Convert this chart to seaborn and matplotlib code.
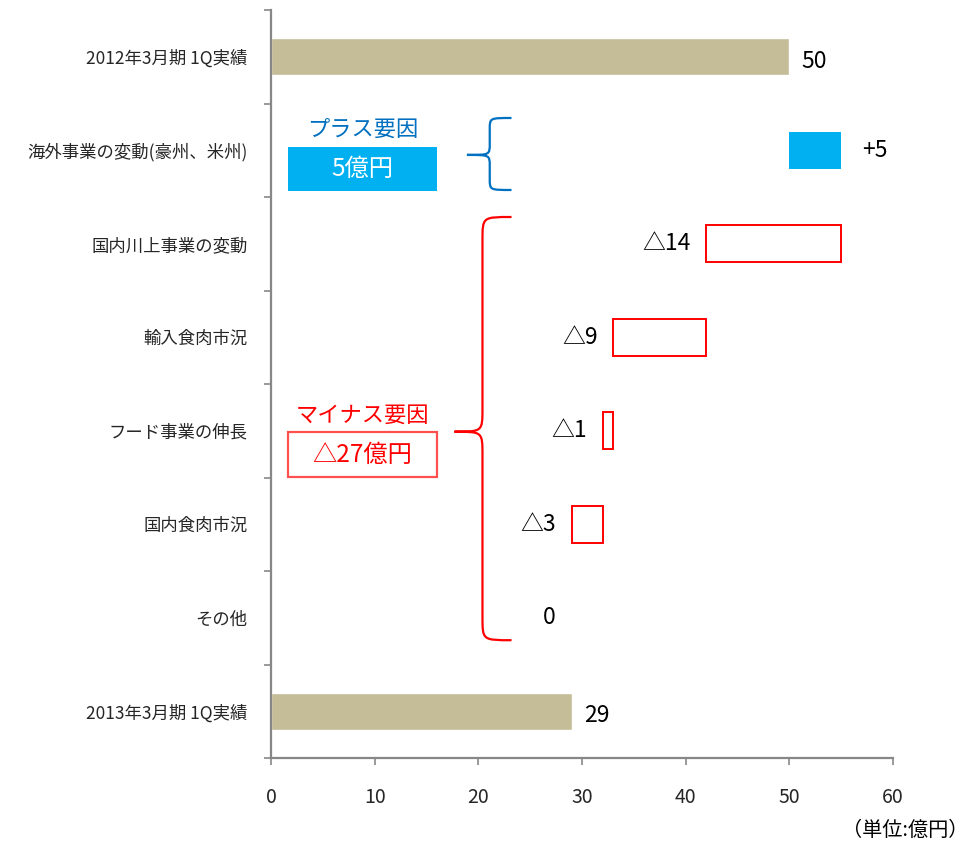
import matplotlib
matplotlib.use("Agg")
import matplotlib.pyplot as plt
import seaborn as sns
import pandas as pd
from matplotlib.path import Path
from matplotlib.patches import PathPatch, Rectangle

categories = ["2012年3月期 1Q実績", "海外事業の変動(豪州、米州)", "国内川上事業の変動", "輸入食肉市況",
              "フード事業の伸長", "国内食肉市況", "その他", "2013年3月期 1Q実績"]
starts = [0, 50, 42, 33, 32, 29, 29, 0]
ends = [50, 55, 55, 42, 33, 32, 29, 29]
value_labels = ["50", "+5", "△14", "△9", "△1", "△3", "0", "29"]
kinds = ["total", "plus", "minus", "minus", "minus", "minus", "minus", "total"]
x_ticks = [0, 10, 20, 30, 40, 50, 60]
plus_title, plus_box = "プラス要因", "5億円"
minus_title, minus_box = "マイナス要因", "△27億円"
unit_label = "（単位:億円）"

sns.set_theme(style="white")
plt.rcParams['font.family'] = ['Noto Sans CJK JP', 'DejaVu Sans']

TAN = "#C4BD97"
BLUE = "#00B0F0"
DBLUE = "#0070C0"
RED = "#FF0000"
GRAY = "#878787"

fig = plt.figure(figsize=(9.74, 8.41), dpi=100)
ax = fig.add_axes([271/974, 1-758/841, (893-271)/974, (758-10)/841])

df = pd.DataFrame({"cat": categories,
                   "total": [e if k == "total" else 0 for e, k in zip(ends, kinds)]})
sns.barplot(data=df, x="total", y="cat", color=TAN, saturation=1, width=0.4, ax=ax)

for i, (s, e, k) in enumerate(zip(starts, ends, kinds)):
    if k == "plus":
        ax.barh(i, e - s, left=s, height=0.4, color=BLUE, edgecolor="none")
    elif k == "minus" and e - s > 0:
        ax.barh(i, e - s, left=s, height=0.4, facecolor="white", edgecolor=RED, linewidth=1.4)

# value labels
VFS = 16.5
for i, (s, e, k, lab) in enumerate(zip(starts, ends, kinds, value_labels)):
    if k == "total":
        ax.text(e + 1.2, i + 0.05, lab, ha="left", va="center", fontsize=VFS, color="black")
    elif k == "plus":
        ax.text(e + 2.0, i, lab, ha="left", va="center", fontsize=VFS, color="black")
    else:
        ax.text(s - 1.5, i, lab, ha="right", va="center", fontsize=VFS, color="black")

ax.set_xlim(0, 60)
ax.set_ylim(8 - 0.5, -0.5)
ax.set_xticks(x_ticks)
ax.set_xticklabels([str(t) for t in x_ticks], fontsize=14)
ax.set_yticks(range(len(categories)))
ax.set_yticklabels(categories, fontsize=12.5)
ax.set_yticks([i + 0.5 for i in range(-1, len(categories))], minor=True)
ax.tick_params(axis="y", which="major", length=0, pad=17)
ax.tick_params(axis="y", which="minor", length=5, width=1.2, color=GRAY, direction="out", left=True)
ax.tick_params(axis="x", which="major", length=5, width=1.2, color=GRAY, direction="out", bottom=True, pad=16)
ax.set_xlabel("")
ax.set_ylabel("")
for sp in ["top", "right"]:
    ax.spines[sp].set_visible(False)
for sp in ["left", "bottom"]:
    ax.spines[sp].set_color(GRAY)
    ax.spines[sp].set_linewidth(1.6)


def brace(x_end, x_mid, x_tip, y_top, y_tip, y_bot, color):
    r = min(0.25, (y_tip - y_top) * 0.3)
    verts = [
        (x_end, y_top),
        (x_mid, y_top), (x_mid, y_top), (x_mid, y_top + r),
        (x_mid, y_tip - r),
        (x_mid, y_tip), (x_mid, y_tip), (x_tip, y_tip),
        (x_mid, y_tip), (x_mid, y_tip), (x_mid, y_tip + r),
        (x_mid, y_bot - r),
        (x_mid, y_bot), (x_mid, y_bot), (x_end, y_bot),
    ]
    codes = [Path.MOVETO,
             Path.CURVE4, Path.CURVE4, Path.CURVE4,
             Path.LINETO,
             Path.CURVE4, Path.CURVE4, Path.CURVE4,
             Path.CURVE4, Path.CURVE4, Path.CURVE4,
             Path.LINETO,
             Path.CURVE4, Path.CURVE4, Path.CURVE4]
    ax.add_patch(PathPatch(Path(verts, codes), facecolor="none", edgecolor=color,
                           linewidth=1.6, clip_on=False))


brace(23.2, 21.1, 18.9, 0.655, 1.05, 1.425, DBLUE)
brace(23.2, 20.4, 17.7, 1.714, 4.01, 6.24, RED)

# annotation boxes
ax.add_patch(Rectangle((1.64, 0.965), 16.0 - 1.64, 1.436 - 0.965, facecolor=BLUE, edgecolor="none"))
ax.text(8.82, 0.78, plus_title, ha="center", va="center", fontsize=16, color=DBLUE)
ax.text(8.82, 1.2, plus_box, ha="center", va="center", fontsize=17.5, color="white")

ax.add_patch(Rectangle((1.64, 4.013), 16.0 - 1.64, 4.495 - 4.013, facecolor="white",
                       edgecolor="#FF5050", linewidth=1.6))
ax.text(8.82, 3.83, minus_title, ha="center", va="center", fontsize=16, color=RED)
ax.text(8.82, 4.26, minus_box, ha="center", va="center", fontsize=17.5, color=RED)

fig.text(968/974, 1 - 830/841, unit_label, ha="right", va="center", fontsize=14.5, color="black")

fig.savefig("out.png", dpi=100)
